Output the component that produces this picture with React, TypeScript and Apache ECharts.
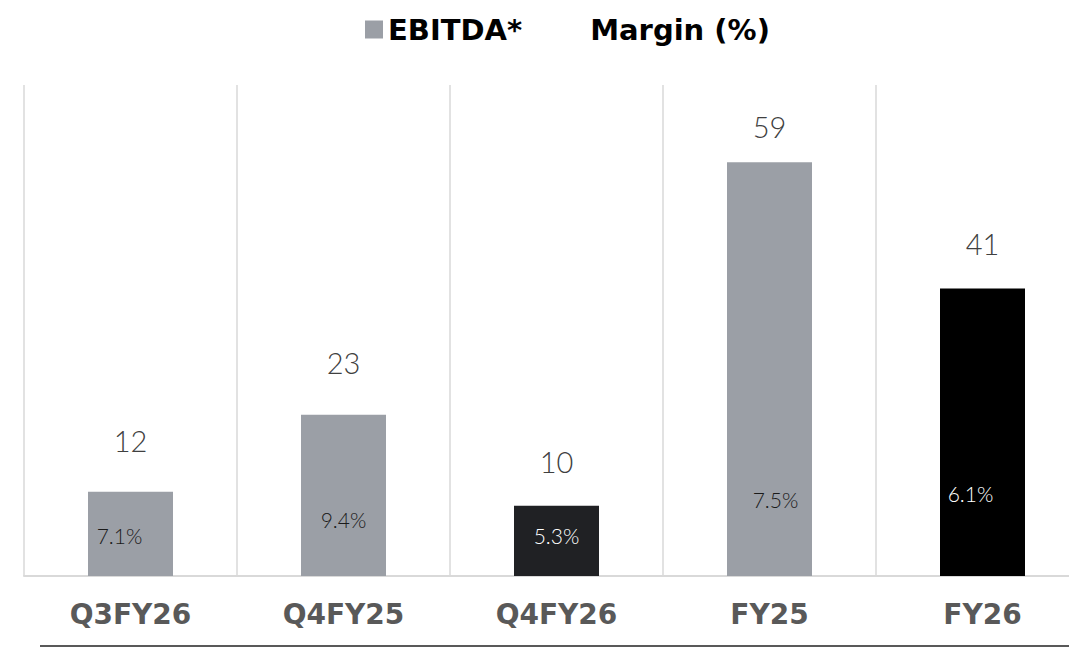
import React, { useEffect, useRef } from "react";
import * as echarts from "echarts";

const categories = ["Q3FY26", "Q4FY25", "Q4FY26", "FY25", "FY26"];
const ebitda = [12, 23, 10, 59, 41];
const margins = ["7.1%", "9.4%", "5.3%", "7.5%", "6.1%"];

const barColors = ["#9b9fa6", "#9b9fa6", "#202124", "#9b9fa6", "#000000"];
const marginColors = ["#1a1a1a", "#1a1a1a", "#ffffff", "#1a1a1a", "#ffffff"];
const valueLabelDist = [37, 38, 30, 21, 30];
const marginLabelDist = [30, 46, 30, 66, 72];
const marginLabelDx = [-11, 0, 0, 6, -12];

export default function App() {
  const ref = useRef<HTMLDivElement>(null);
  useEffect(() => {
    if (!ref.current) return;
    const chart = echarts.init(ref.current, null, { renderer: "svg" });
    chart.setOption({
      animation: false,
      backgroundColor: "#ffffff",
      legend: {
        left: 360,
        top: 10,
        itemWidth: 18,
        itemHeight: 18,
        itemGap: 45,
        selectedMode: false,
        textStyle: {
          fontFamily: "DejaVu Sans",
          fontWeight: "bold",
          fontSize: 29,
          color: "#000000",
        },
        data: [
          { name: "EBITDA*", icon: "rect", itemStyle: { color: "#9b9fa6" } },
          { name: "Margin (%)", icon: "rect", itemStyle: { color: "rgba(0,0,0,0)" } },
        ],
      },
      grid: { left: 24, right: 0, top: 85, bottom: 71, containLabel: false },
      xAxis: {
        type: "category",
        data: categories,
        axisTick: { show: false },
        axisLine: { lineStyle: { color: "#d9d9d9", width: 2 } },
        splitLine: { show: true, lineStyle: { color: "#d9d9d9", width: 1.5 } },
        axisLabel: {
          margin: 24,
          fontFamily: "DejaVu Sans",
          fontWeight: "bold",
          fontSize: 28,
          color: "#595959",
        },
      },
      yAxis: { type: "value", min: 0, max: 70, show: false, splitLine: { show: false } },
      series: [
        {
          name: "EBITDA*",
          type: "bar",
          barWidth: 85,
          itemStyle: { color: "#9b9fa6" },
          data: ebitda.map((v, i) => ({
            value: v,
            itemStyle: { color: barColors[i] },
            label: { distance: valueLabelDist[i] },
          })),
          label: {
            show: true,
            position: "top",
            fontFamily: "Lato",
            fontWeight: 300,
            fontSize: 29,
            color: "#404040",
          },
        },
        {
          name: "Margin (%)",
          type: "bar",
          barWidth: 85,
          barGap: "-100%",
          itemStyle: { color: "rgba(0,0,0,0)" },
          data: ebitda.map((v, i) => ({
            value: v,
            label: {
              distance: marginLabelDist[i],
              offset: [marginLabelDx[i], 0],
              color: marginColors[i],
            },
          })),
          label: {
            show: true,
            position: "insideBottom",
            fontFamily: "Lato",
            fontWeight: 300,
            fontSize: 21,
            formatter: (p: any) => margins[p.dataIndex],
          },
        },
      ],
      graphic: [
        {
          type: "line",
          shape: { x1: 40, y1: 646, x2: 1069, y2: 646 },
          style: { stroke: "#595959", lineWidth: 2 },
        },
      ],
    });
    return () => chart.dispose();
  }, []);
  return (
    <div
      ref={ref}
      style={{ position: "fixed", left: 0, top: 0, width: 1089, height: 647 }}
    />
  );
}
